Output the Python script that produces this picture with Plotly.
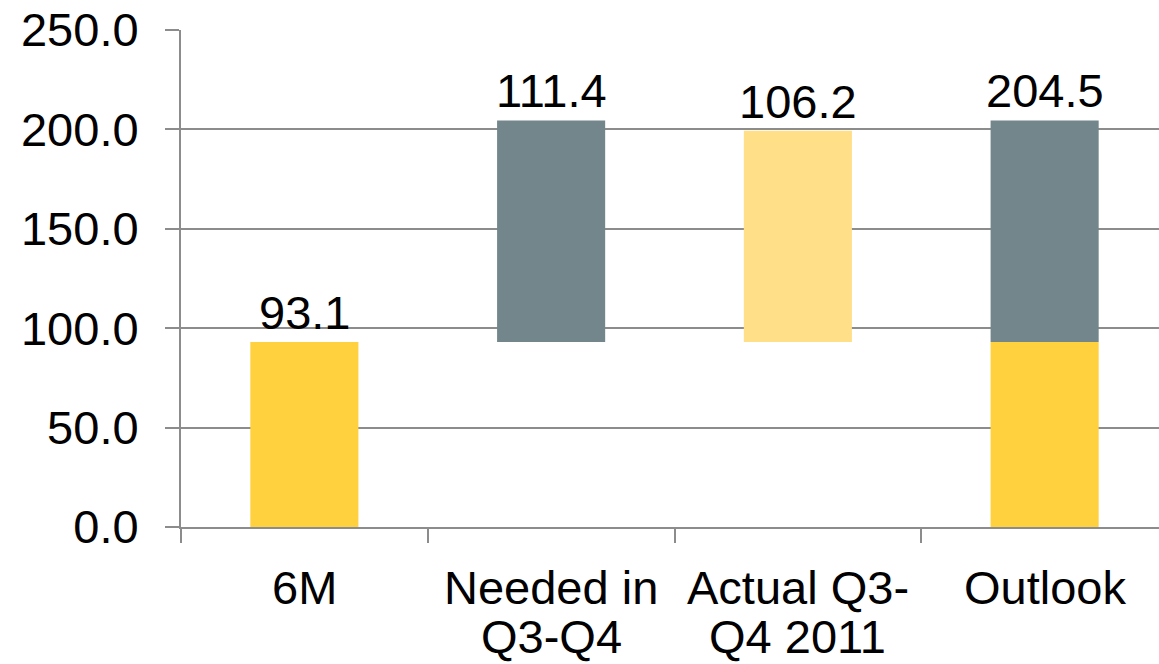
import plotly.graph_objects as go

# Category labels along the x axis (two-line labels split at <br>)
categories = ["6M", "Needed in<br>Q3-Q4", "Actual Q3-<br>Q4 2011", "Outlook"]

# Values
first_half = 93.1        # 6M result
needed_h2 = 111.4        # needed in Q3-Q4
actual_h2_2011 = 106.2   # actual Q3-Q4 2011

outlook_total = round(first_half + needed_h2, 1)  # 204.5

YELLOW = "#FFD13F"
GREY = "#72868B"
LIGHT_YELLOW = "#FFDF88"
AXIS_GREY = "#8C8C8C"
FONT = "Liberation Sans, Arial, sans-serif"
BAR_W = 0.438

fig = go.Figure()

# 6M and the lower part of Outlook
fig.add_trace(go.Bar(
    x=[categories[0], categories[3]],
    y=[first_half, first_half],
    base=[0, 0],
    marker=dict(color=YELLOW, line=dict(width=0)),
    width=BAR_W,
    hoverinfo="skip",
))

# Needed in Q3-Q4 and the upper part of Outlook, floating on top of 6M
fig.add_trace(go.Bar(
    x=[categories[1], categories[3]],
    y=[needed_h2, needed_h2],
    base=[first_half, first_half],
    marker=dict(color=GREY, line=dict(width=0)),
    width=BAR_W,
    hoverinfo="skip",
))

# Actual Q3-Q4 2011, floating on top of 6M
fig.add_trace(go.Bar(
    x=[categories[2]],
    y=[actual_h2_2011],
    base=[first_half],
    marker=dict(color=LIGHT_YELLOW, line=dict(width=0)),
    width=BAR_W,
    hoverinfo="skip",
))

# Value labels above each column
label_tops = [first_half, first_half + needed_h2, first_half + actual_h2_2011, outlook_total]
label_texts = [first_half, needed_h2, actual_h2_2011, outlook_total]
for cat, top, val in zip(categories, label_tops, label_texts):
    fig.add_annotation(
        x=cat, y=top, text=f"{val:.1f}",
        showarrow=False, yanchor="bottom", yshift=1,
        font=dict(family=FONT, size=47, color="black"),
    )

# Category labels below the axis, one annotation per line for tighter line spacing
LINE_OFFSETS = [-60, -109]
for cat in categories:
    for line, dy in zip(cat.split("<br>"), LINE_OFFSETS):
        fig.add_annotation(
            x=cat, y=0, text=line,
            showarrow=False, yanchor="middle", yshift=dy,
            font=dict(family=FONT, size=47, color="black"),
        )

fig.update_layout(
    width=1159, height=664,
    margin=dict(l=181, r=0, t=30, b=137),
    paper_bgcolor="white", plot_bgcolor="white",
    barmode="overlay",
    showlegend=False,
    font=dict(family=FONT, size=47, color="black"),
)

fig.update_xaxes(
    type="category",
    categoryorder="array", categoryarray=categories,
    range=[-0.5, 3.4635],
    tickson="boundaries",
    ticks="outside", ticklen=14, tickwidth=2, tickcolor=AXIS_GREY,
    showline=True, linecolor=AXIS_GREY, linewidth=2,
    showgrid=False,
    showticklabels=False,
    automargin=False,
)

fig.update_yaxes(
    range=[0, 250],
    tickvals=[0, 50, 100, 150, 200, 250],
    tickformat=".1f",
    ticks="outside", ticklen=14, tickwidth=2, tickcolor=AXIS_GREY,
    showline=True, linecolor=AXIS_GREY, linewidth=2,
    showgrid=True, gridcolor=AXIS_GREY, gridwidth=2,
    zeroline=False,
    automargin=False,
    ticklabelstandoff=17,
    tickfont=dict(family=FONT, size=47, color="black"),
)

fig.write_html("out.html")
